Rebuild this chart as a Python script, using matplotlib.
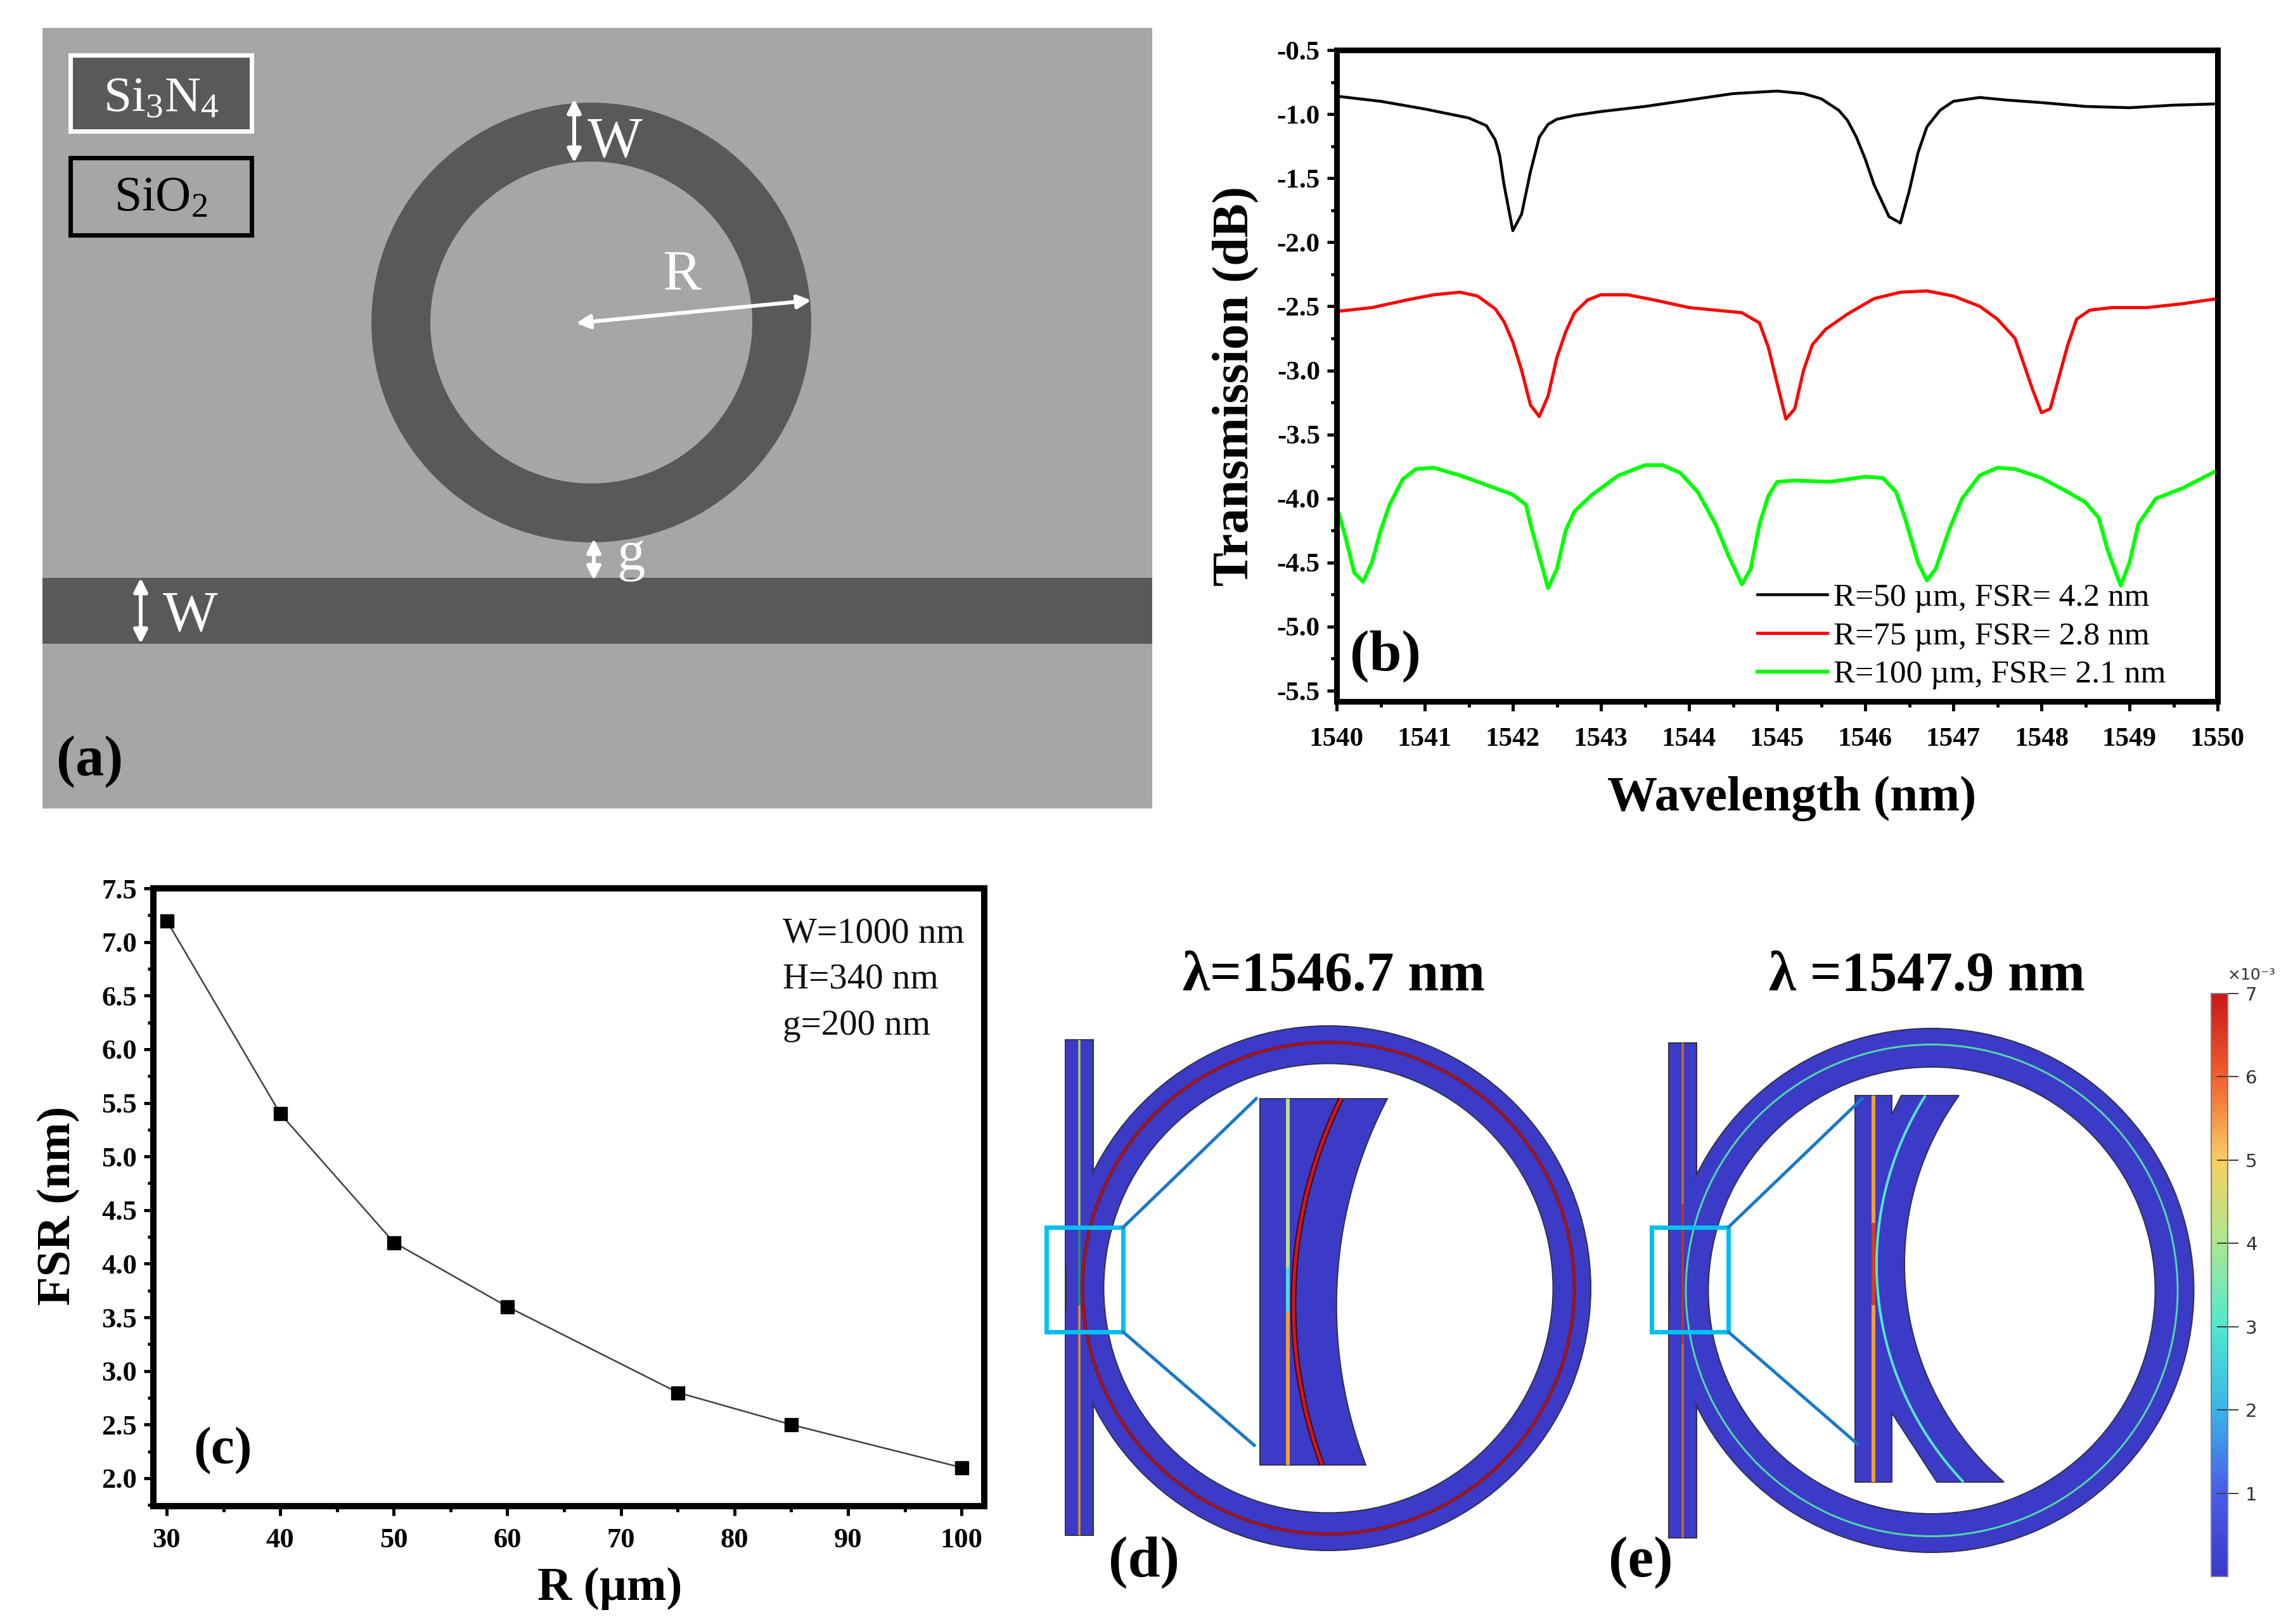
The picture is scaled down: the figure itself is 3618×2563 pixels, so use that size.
#!/usr/bin/env python3
"""Micro-ring resonator figure: layout, transmission spectra, FSR vs R, field maps."""

import matplotlib
matplotlib.use("Agg")
import matplotlib.pyplot as plt
import matplotlib.ticker as ticker
import numpy as np
from matplotlib.cm import ScalarMappable
from matplotlib.colors import LinearSegmentedColormap, Normalize
from matplotlib.patches import Annulus, Circle, FancyArrowPatch, Polygon, Rectangle

W_PX, H_PX = 3618, 2563
DPI = 100

plt.rcParams["font.family"] = ["Liberation Serif", "DejaVu Serif"]
plt.rcParams["mathtext.default"] = "regular"

# (b) transmission spectra
wl_50 = [1540, 1540.5, 1541, 1541.5, 1541.7, 1541.8, 1541.85, 1541.9, 1542, 1542.1, 1542.2, 1542.3,
         1542.4, 1542.5, 1542.7, 1543, 1543.5, 1544, 1544.5, 1545, 1545.3, 1545.5, 1545.7, 1545.8,
         1545.9, 1546, 1546.1, 1546.27, 1546.4, 1546.5, 1546.6, 1546.7, 1546.85, 1547, 1547.3,
         1547.6, 1548, 1548.5, 1549, 1549.5, 1550]
t_50 = [-0.86, -0.90, -0.96, -1.03, -1.09, -1.2, -1.32, -1.55, -1.91, -1.78, -1.45, -1.18,
        -1.08, -1.04, -1.01, -0.98, -0.94, -0.89, -0.84, -0.82, -0.84, -0.88, -0.97, -1.05,
        -1.18, -1.35, -1.55, -1.8, -1.85, -1.6, -1.3, -1.1, -0.97, -0.90, -0.87,
        -0.89, -0.91, -0.94, -0.95, -0.93, -0.92]
wl_75 = [1540, 1540.4, 1540.8, 1541.1, 1541.4, 1541.6, 1541.8, 1541.9, 1542, 1542.1, 1542.2, 1542.3,
         1542.4, 1542.5, 1542.6, 1542.7, 1542.85, 1543, 1543.3, 1543.6, 1544, 1544.3, 1544.6, 1544.8,
         1544.9, 1545, 1545.1, 1545.2, 1545.3, 1545.4, 1545.55, 1545.8, 1546.1, 1546.4, 1546.7,
         1547, 1547.3, 1547.5, 1547.7, 1547.8, 1547.9, 1548, 1548.1, 1548.2, 1548.3, 1548.4,
         1548.55, 1548.8, 1549.2, 1549.6, 1550]
t_75 = [-2.54, -2.51, -2.45, -2.41, -2.39, -2.42, -2.52, -2.62, -2.78, -3.0, -3.27, -3.36,
        -3.2, -2.9, -2.7, -2.55, -2.45, -2.41, -2.41, -2.45, -2.51, -2.53, -2.55, -2.63,
        -2.82, -3.1, -3.38, -3.3, -3.0, -2.8, -2.68, -2.56, -2.44, -2.39, -2.38,
        -2.42, -2.5, -2.6, -2.75, -2.95, -3.15, -3.33, -3.3, -3.05, -2.8, -2.6,
        -2.53, -2.51, -2.51, -2.48, -2.44]
wl_100 = [1540, 1540.1, 1540.2, 1540.3, 1540.4, 1540.5, 1540.6, 1540.75, 1540.9, 1541.1, 1541.4,
          1541.8, 1542, 1542.15, 1542.2, 1542.3, 1542.4, 1542.5, 1542.6, 1542.7, 1542.9, 1543.2,
          1543.5, 1543.7, 1543.9, 1544.1, 1544.3, 1544.45, 1544.6, 1544.7, 1544.8, 1544.9, 1545,
          1545.2, 1545.6, 1546, 1546.2, 1546.35, 1546.45, 1546.6, 1546.7, 1546.8, 1546.95, 1547.1,
          1547.3, 1547.5, 1547.7, 1548, 1548.3, 1548.5, 1548.65, 1548.75, 1548.9, 1549, 1549.1,
          1549.2, 1549.3, 1549.6, 1550]
t_100 = [-4.06, -4.3, -4.58, -4.65, -4.5, -4.25, -4.05, -3.85, -3.77, -3.76, -3.82,
         -3.92, -3.97, -4.05, -4.2, -4.45, -4.7, -4.55, -4.25, -4.1, -3.97, -3.82,
         -3.74, -3.74, -3.8, -3.95, -4.2, -4.45, -4.67, -4.55, -4.2, -3.98, -3.87,
         -3.86, -3.87, -3.83, -3.84, -3.95, -4.15, -4.5, -4.64, -4.55, -4.25, -4.0,
         -3.82, -3.76, -3.77, -3.84, -3.95, -4.03, -4.15, -4.4, -4.68, -4.5, -4.2,
         -4.1, -4.0, -3.92, -3.78]
spectrum_labels = ["R=50 µm, FSR= 4.2 nm", "R=75 µm, FSR= 2.8 nm", "R=100 µm, FSR= 2.1 nm"]

# (c) FSR vs ring radius
radius = [30, 40, 50, 60, 75, 85, 100]
fsr = [7.2, 5.4, 4.2, 3.6, 2.8, 2.5, 2.1]

# colour scale of the field maps
cbar_ticks = [1, 2, 3, 4, 5, 6, 7]
cbar_colors = ["#3a3ac8", "#4a5ce8", "#3ab4e8", "#50e8d0", "#a8e890", "#f8d060", "#f06030", "#c81818"]


def px(p):
    """Pixels to points."""
    return p * 72 / DPI


def axes_px(fig, left, top, right, bottom):
    return fig.add_axes([left / W_PX, 1 - bottom / H_PX, (right - left) / W_PX, (bottom - top) / H_PX])


def style_axes(ax, frame, major, minor, tick_w, size):
    for s in ax.spines.values():
        s.set_linewidth(px(frame))
    ax.tick_params(which="major", direction="out", length=px(major), width=px(tick_w), labelsize=size)
    ax.tick_params(which="minor", direction="out", length=px(minor), width=px(tick_w))
    for lab in ax.get_xticklabels() + ax.get_yticklabels():
        lab.set_fontweight("bold")


def arc3(p0, mid, p1, n=80):
    """Points on the circle through p0, mid and p1, from p0 to p1."""
    a = np.array([[mid[0] - p0[0], mid[1] - p0[1]], [p1[0] - p0[0], p1[1] - p0[1]]]) * 2
    b = np.array([mid[0] ** 2 + mid[1] ** 2 - p0[0] ** 2 - p0[1] ** 2,
                  p1[0] ** 2 + p1[1] ** 2 - p0[0] ** 2 - p0[1] ** 2])
    cx, cy = np.linalg.solve(a, b)
    r = np.hypot(p0[0] - cx, p0[1] - cy)
    t0 = np.arctan2(p0[1] - cy, p0[0] - cx) % (2 * np.pi)
    t1 = np.arctan2(p1[1] - cy, p1[0] - cx) % (2 * np.pi)
    t = np.linspace(t0, t1, n)
    return np.column_stack([cx + r * np.cos(t), cy + r * np.sin(t)])


def arrow(ov, a, b):
    ov.add_patch(FancyArrowPatch(a, b, arrowstyle="<|-|>", mutation_scale=32, color="white",
                                 lw=px(6), shrinkA=0, shrinkB=0, zorder=5))


def draw_device(ov, cx, cy, r_out, r_in, r_mode, wg_l, wg_r, wg_t, wg_b, mode_cols, core_segments):
    """Ring plus bus waveguide as one blue shape with thin outline."""
    blue = "#3b3bc8"
    edge = "#30304a"
    ov.add_patch(Rectangle((wg_l, wg_t), wg_r - wg_l, wg_b - wg_t, fc=blue, ec=edge, lw=px(2), zorder=1))
    ov.add_patch(Annulus((cx, cy), r_out, r_out - r_in, fc=blue, ec=edge, lw=px(2), zorder=2))
    ov.add_patch(Rectangle((wg_l + 2, wg_t + 2), wg_r - wg_l - 4, wg_b - wg_t - 4, fc=blue, ec="none", zorder=3))
    ov.add_patch(Annulus((cx, cy), r_out - 2, r_out - r_in - 4, fc=blue, ec="none", zorder=3))
    for col, w in mode_cols:
        ov.add_patch(Circle((cx, cy), r_mode, fc="none", ec=col, lw=px(w), zorder=4))
    x_core = (wg_l + wg_r) / 2
    for y0, y1, col in core_segments:
        ov.plot([x_core, x_core], [y0, y1], color=col, lw=px(3.5), solid_capstyle="butt", zorder=4)


fig = plt.figure(figsize=(W_PX / DPI, H_PX / DPI), dpi=DPI, facecolor="white")

# (b)
ax_b = axes_px(fig, 2109, 79, 3499, 1107)
ax_b.plot(wl_50, t_50, color="black", lw=px(4.5), label=spectrum_labels[0])
ax_b.plot(wl_75, t_75, color="#ff0000", lw=px(5), label=spectrum_labels[1])
ax_b.plot(wl_100, t_100, color="#00ff00", lw=px(6), label=spectrum_labels[2])
ax_b.set_xlim(1540, 1550)
ax_b.set_ylim(-5.584, -0.5)
ax_b.set_xticks(range(1540, 1551))
ax_b.set_yticks([-0.5, -1, -1.5, -2, -2.5, -3, -3.5, -4, -4.5, -5, -5.5])
ax_b.yaxis.set_major_formatter(ticker.FormatStrFormatter("%.1f"))
ax_b.xaxis.set_minor_locator(ticker.MultipleLocator(0.5))
ax_b.yaxis.set_minor_locator(ticker.MultipleLocator(0.25))
style_axes(ax_b, 9, 15, 9, 5, 31)
ax_b.tick_params(axis="x", which="major", pad=19)
ax_b.tick_params(axis="y", which="major", pad=8)
ax_b.set_xlabel("Wavelength (nm)", fontsize=57, fontweight="bold")
ax_b.set_ylabel("Transmission (dB)", fontsize=58, fontweight="bold")
ax_b.xaxis.set_label_coords(0.5165, -0.114)
ax_b.yaxis.set_label_coords(-0.0885, 0.484)
ax_b.legend(loc="lower left", bbox_to_anchor=(0.4775, 0.018), frameon=False, fontsize=37,
            handlelength=2.15, handletextpad=0.2, labelspacing=0.27, borderaxespad=0, borderpad=0)

# (c)
ax_c = axes_px(fig, 242, 1402, 1553, 2377)
ax_c.plot(radius, fsr, color="#404040", lw=px(2.5), marker="s", ms=px(21), mfc="black", mec="black")
ax_c.set_xlim(28.83, 102)
ax_c.set_ylim(1.74, 7.5)
ax_c.set_xticks(range(30, 101, 10))
ax_c.set_yticks([2, 2.5, 3, 3.5, 4, 4.5, 5, 5.5, 6, 6.5, 7, 7.5])
ax_c.yaxis.set_major_formatter(ticker.FormatStrFormatter("%.1f"))
ax_c.xaxis.set_minor_locator(ticker.MultipleLocator(5))
ax_c.yaxis.set_minor_locator(ticker.MultipleLocator(0.25))
style_axes(ax_c, 10, 15, 9, 5, 32)
ax_c.tick_params(axis="x", which="major", pad=14)
ax_c.tick_params(axis="y", which="major", pad=8)
ax_c.set_xlabel("R (µm)", fontsize=54, fontweight="bold")
ax_c.set_ylabel("FSR (nm)", fontsize=54, fontweight="bold")
ax_c.xaxis.set_label_coords(0.5495, -0.098)
ax_c.yaxis.set_label_coords(-0.088, 0.4865)

# colour bar of (d)/(e)
cax = axes_px(fig, 3489, 1568, 3515, 2488)
cmap = LinearSegmentedColormap.from_list("field", cbar_colors)
cb = fig.colorbar(ScalarMappable(Normalize(0, 7), cmap), cax=cax, ticks=cbar_ticks)
cb.outline.set_edgecolor("#808080")
cb.outline.set_linewidth(px(2))
cax.tick_params(direction="inout", length=px(34), width=px(2), color="#404040", labelsize=21,
                labelcolor="#303030", pad=8)
for lab in cax.get_yticklabels():
    lab.set_family("DejaVu Sans")

# everything else sits on a full-figure overlay in pixel coordinates
ov = fig.add_axes([0, 0, 1, 1], zorder=10)
ov.set_xlim(0, W_PX)
ov.set_ylim(H_PX, 0)
ov.axis("off")


def label(x, y, s, size, color="black", weight="normal", **kw):
    ov.text(x, y, s, fontsize=size, color=color, fontweight=weight, ha="center", va="center", zorder=6, **kw)


# (a)
GREY, DARK = "#a6a6a6", "#595959"
ov.add_patch(Rectangle((67, 44), 1751, 1232, fc=GREY, ec="none", zorder=0))
ov.add_patch(Rectangle((67, 912), 1751, 104, fc=DARK, ec="none", zorder=1))
ov.add_patch(Annulus((933, 509), 347, 93, fc=DARK, ec="none", zorder=1))
ov.add_patch(Rectangle((111, 87), 286, 120, fc=DARK, ec="white", lw=px(7), zorder=2))
ov.add_patch(Rectangle((111, 249), 286, 122, fc=GREY, ec="black", lw=px(7), zorder=2))
label(254, 157, "Si$_3$N$_4$", 57, color="white")
label(254, 313, "SiO$_2$", 56, color="black")
arrow(ov, (906, 156), (906, 257))
arrow(ov, (909, 510), (1280, 474))
arrow(ov, (937, 850), (937, 916))
arrow(ov, (222, 912), (222, 1016))
label(970, 226, "W", 66, color="white")
label(1076, 436, "R", 66, color="white")
label(995, 878, "g", 64, color="white")
label(300, 974, "W", 66, color="white")
label(142, 1202, "(a)", 65, weight="bold")

# panel letters in the plots
label(2186, 1036, "(b)", 66, weight="bold")
label(352, 2290, "(c)", 60, weight="bold")
for y, s in zip([1474, 1545, 1619], ["W=1000 nm", "H=340 nm", "g=200 nm"]):
    ov.text(1235, y, s, fontsize=41, ha="left", va="center", color="#111111", zorder=6)

# (d)
CYAN, LINK = "#00bff0", "#1a78c8"
BLUE, OUTLINE = "#3b3bc8", "#30304a"
draw_device(ov, 2096, 2033, 414, 354.5, 388, 1681, 1725, 1641, 2423,
            [("#8a1010", 5), ("#b01818", 2)],
            [(1641, 1937, "#a8d070"), (1937, 2060, "#2a8a70"), (2060, 2423, "#e09030")])
ov.add_patch(Rectangle((1651, 1937), 121, 165, fc="none", ec=CYAN, lw=px(7), zorder=8))
ov.plot([1772, 1982], [1937, 1734], color=LINK, lw=px(5), zorder=8)
ov.plot([1772, 1979], [2102, 2281], color=LINK, lw=px(5), zorder=8)

edge_d = arc3((2189, 1734), (2109, 2044), (2155, 2312))
ins_d = np.vstack([[(1988, 1734)], edge_d, [(1988, 2312)]])
ov.add_patch(Polygon(ins_d, closed=True, fc=BLUE, ec=OUTLINE, lw=px(2), zorder=5))
mode_d = arc3((2116, 1734), (2041, 2044), (2086, 2312))
ov.plot(mode_d[:, 0], mode_d[:, 1], color="#400810", lw=px(9), solid_capstyle="butt", zorder=6)
ov.plot(mode_d[:, 0], mode_d[:, 1], color="#d01818", lw=px(5), solid_capstyle="butt", zorder=6)
ov.plot([2032, 2032], [1734, 2000], color="#b8e080", lw=px(6), solid_capstyle="butt", zorder=6)
ov.plot([2032, 2032], [2000, 2070], color="#50d8e0", lw=px(6), solid_capstyle="butt", zorder=6)
ov.plot([2032, 2032], [2070, 2312], color="#f0a030", lw=px(6), solid_capstyle="butt", zorder=6)

# (e)
draw_device(ov, 3048, 2036.5, 413.5, 352.5, 388, 2633, 2677, 1646, 2427,
            [("#50d8a8", 3)],
            [(1646, 1900, "#c07020"), (1900, 2120, "#c03820"), (2120, 2427, "#c07020")])
ov.add_patch(Rectangle((2606, 1937), 121, 165, fc="none", ec=CYAN, lw=px(7), zorder=8))
ov.plot([2727, 2938], [1937, 1734], color=LINK, lw=px(5), zorder=8)
ov.plot([2727, 2931], [2102, 2279], color=LINK, lw=px(5), zorder=8)

edge_e = arc3((3091, 1729), (3005, 1991), (3162, 2339))
ins_e = np.vstack([[(2927, 1729), (2985, 1729), (2985, 1759), (3000, 1729)], edge_e,
                   [(3056, 2339), (2985, 2230), (2985, 2339), (2927, 2339)]])
ov.add_patch(Polygon(ins_e, closed=True, fc=BLUE, ec=OUTLINE, lw=px(2), zorder=5))
mode_e = arc3((3038, 1729), (2961, 1991), (3098, 2339))
ov.plot(mode_e[:, 0], mode_e[:, 1], color="#50e8c8", lw=px(4), solid_capstyle="butt", zorder=6)
ov.plot([2956, 2956], [1729, 1930], color="#f0a030", lw=px(6), solid_capstyle="butt", zorder=6)
ov.plot([2956, 2956], [1930, 2060], color="#d04020", lw=px(6), solid_capstyle="butt", zorder=6)
ov.plot([2956, 2956], [2060, 2339], color="#f0a030", lw=px(6), solid_capstyle="butt", zorder=6)

label(2105, 1541, "λ=1546.7 nm", 63, weight="bold")
label(3040, 1541, "λ =1547.9 nm", 63, weight="bold")
label(1805, 2466, "(d)", 66, weight="bold")
label(2589, 2466, "(e)", 66, weight="bold")
ov.text(3552, 1539, "×10⁻³", fontsize=18, ha="center", va="center", color="#303030",
        family="DejaVu Sans", zorder=6)

fig.savefig("out.png", dpi=DPI, facecolor="white")
